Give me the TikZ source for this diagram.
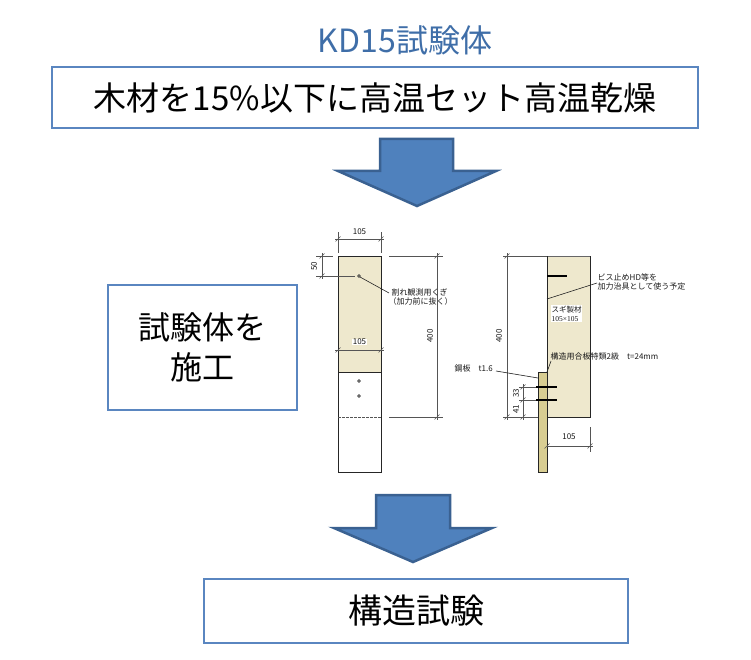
\documentclass[tikz,border=0pt]{standalone}
\usepackage{fontspec}
\setmainfont{Liberation Sans}
\newfontfamily\jp{Noto Sans CJK JP}
\newfontfamily\serifnum{Liberation Serif}
\definecolor{boxblue}{HTML}{5A86C0}
\definecolor{titleblue}{HTML}{3F6EA8}
\definecolor{arrowfill}{HTML}{4F81BD}
\definecolor{arrowline}{HTML}{3A6191}
\definecolor{wood}{HTML}{EEE8CD}
\definecolor{ply}{HTML}{D8CD92}
\definecolor{dimgray}{HTML}{555555}
\newcommand\dimtick[2]{\draw[dimline] (#1-2.5,#2+2.5) -- (#1+2.5,#2-2.5);}
\begin{document}
\begin{tikzpicture}[x=1pt,y=-1pt,
  stepbox/.style={draw=boxblue, line width=2pt, fill=white, inner sep=0pt, align=center},
  bigarrow/.style={fill=arrowfill, draw=arrowline, line width=2.5pt, line join=miter},
  dimline/.style={draw=dimgray, line width=0.6pt},
  outl/.style={draw=black!85, line width=0.8pt},
  bolt/.style={draw=black, line width=1.4pt},
  small/.style={font=\jp\fontsize{8}{9}\selectfont, inner sep=0.5pt, text=black!90},
  dimtxt/.style={font=\jp\fontsize{8}{8}\selectfont, inner sep=0.5pt, text=black!90}]
\useasboundingbox (0,0) rectangle (751,660);

% title
\node[font=\jp\fontsize{32}{34}\selectfont, text=titleblue] (title) at (405,40) {KD15試験体};

% boxes
\node[stepbox, minimum width=646pt, minimum height=61pt, font=\jp\fontsize{33}{38}\selectfont] (dry) at (375,97.5) {木材を15\%以下に高温セット高温乾燥};
\node[stepbox, minimum width=189pt, minimum height=125pt, font=\jp\fontsize{32}{40}\selectfont] (build) at (202.5,347.5) {試験体を\\施工};
\node[stepbox, minimum width=424pt, minimum height=64pt, font=\jp\fontsize{34}{38}\selectfont] (test) at (416,611) {構造試験};

% arrows
\draw[bigarrow] (380,139) -- (453,139) -- (453,171) -- (496,171) -- (417,206) -- (338,171) -- (380,171) -- cycle;
\draw[bigarrow] (376,495) -- (450,495) -- (450,528) -- (492,528) -- (413,562) -- (334,528) -- (376,528) -- cycle;

% ---------- left drawing ----------
\fill[wood] (338,256) rectangle (381,372);
\fill[white] (338,372) rectangle (381,472);
\draw[outl] (338,256) rectangle (381,472);
\draw[outl] (338,372) -- (381,372);
\draw[dimline, dashed, dash pattern=on 2.5pt off 1.5pt] (338,417) -- (381,417);
\draw[black!80, line width=0.6pt] (359,276) circle (1.4);
\draw[black!80, line width=0.6pt] (359,381) circle (1.4);
\draw[black!80, line width=0.6pt] (359,396) circle (1.4);
% top 105
\draw[dimline] (338,232) -- (338,253);
\draw[dimline] (381,232) -- (381,253);
\draw[dimline] (335,239) -- (384,239);
\dimtick{338}{239}\dimtick{381}{239}
\node[dimtxt] (l105a) at (359.5,232) {105};
% 50
\draw[dimline] (316,256) -- (333,256);
\draw[dimline] (316,276) -- (355,276);
\draw[dimline] (322,253) -- (322,279);
\dimtick{322}{256}\dimtick{322}{276}
\node[dimtxt, rotate=90] (l50) at (314,266) {50};
% mid 105
\draw[dimline] (335,350) -- (384,350);
\dimtick{338}{350}\dimtick{381}{350}
\node[dimtxt, fill=white] (l105b) at (359.5,342) {105};
% 400
\draw[dimline] (389,256) -- (443,256);
\draw[dimline] (389,417) -- (443,417);
\draw[dimline] (437,253) -- (437,420);
\dimtick{437}{256}\dimtick{437}{417}
\node[dimtxt, rotate=90] (l400) at (430,336) {400};
% nail leader
\coordinate (nail) at (360,277);
\coordinate (nailend) at (389,293);
\draw[black!85, line width=0.6pt] (nail) -- (nailend);
\node[small, anchor=west] (nailA) at (391,292) {割れ観測用くぎ};
\node[small, anchor=west] (nailB) at (388,301) {（加力前に抜く）};

% ---------- right drawing ----------
\fill[wood] (547,256) rectangle (590,417);
\draw[draw=black!60, line width=0.6pt] (547,256) -- (590,256);
\draw[outl] (590,256) -- (590,417) -- (547,417) -- (547,256);
\fill[ply] (538,372) rectangle (547,472);
\draw[outl] (538,372) rectangle (547,472);
\draw[bolt] (547,276) -- (567,276);
\draw[bolt] (536,387) -- (557,387);
\draw[bolt] (536,400) -- (557,400);
% HD leader
\coordinate (hdA) at (547,299);
\coordinate (hdB) at (597,283);
\draw[black!85, line width=0.6pt] (hdA) -- (hdB);
\node[small, anchor=west] (hd1) at (597,277) {ビス止めHD等を};
\node[small, anchor=west] (hd2) at (597,286) {加力治具として使う予定};
% sugi
\node[small, anchor=west, fill=white, align=left, font=\jp\fontsize{7.5}{9}\selectfont] (sugi) at (551,313.5) {スギ製材\\{\serifnum 105×105}};
% 400
\draw[dimline] (503,256) -- (547,256);
\draw[dimline] (503,417) -- (538,417);
\draw[dimline] (507,253) -- (507,420);
\dimtick{507}{256}\dimtick{507}{417}
\node[dimtxt, rotate=90] (r400) at (499,336) {400};
% plywood label
\coordinate (plyA) at (547,372);
\coordinate (plyB) at (551,361);
\draw[black!85, line width=0.6pt] (plyA) -- (plyB);
\node[small, anchor=west] (plylbl) at (550,356) {構造用合板特類2級　t=24mm};
% steel plate label
\node[small, anchor=west] (steel) at (454,368) {鋼板　t1.6};
\coordinate (stA) at (496,371);
\coordinate (stB) at (538,378);
\draw[black!85, line width=0.6pt] (stA) -- (stB);
% 33 / 41
\draw[dimline] (519,387) -- (536,387);
\draw[dimline] (519,400) -- (536,400);
\draw[dimline] (523,384) -- (523,420);
\dimtick{523}{387}\dimtick{523}{400}\dimtick{523}{417}
\node[dimtxt, rotate=90] (r33) at (516,393.5) {33};
\node[dimtxt, rotate=90] (r41) at (516,409) {41};
% bottom 105
\draw[dimline] (590,427) -- (590,452);
\draw[dimline] (547,446) -- (593,446);
\dimtick{547}{446}\dimtick{590}{446}
\node[dimtxt] (r105) at (569,437) {105};
\end{tikzpicture}
\end{document}
